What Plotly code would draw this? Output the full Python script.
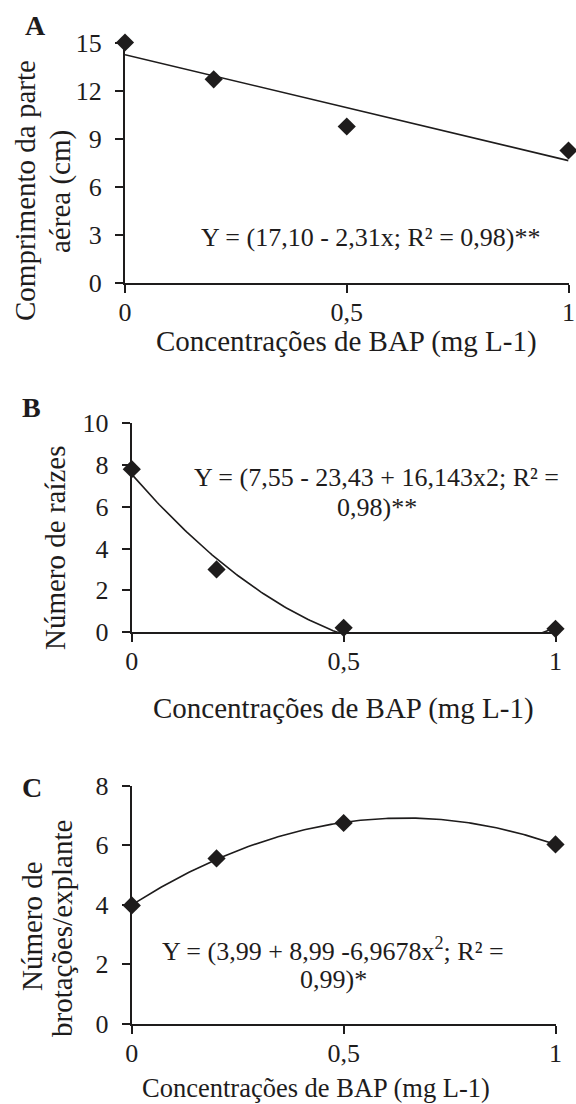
import numpy as np
import plotly.graph_objects as go

# ---- data ----
bap = [0, 0.2, 0.5, 1]
comprimento = [15.0, 12.7, 9.75, 8.25]
raizes = [7.8, 3.0, 0.2, 0.15]
brotacoes = [3.97, 5.55, 6.74, 6.02]
x_ticks = [0, 0.5, 1]
x_ticktext = ["0", "0,5", "1"]
eq_a = "Y = (17,10 - 2,31x; R² = 0,98)**"
eq_b = ["Y = (7,55 - 23,43 + 16,143x2; R² =", "0,98)**"]
eq_c = ["Y = (3,99 + 8,99 -6,9678x<sup>2</sup>; R² =", "0,99)*"]
x_title = "Concentrações de BAP (mg L-1)"

W, H = 576, 1104
FONT = "Liberation Serif"
INK = "#1e1c1c"


def px(x):
    return x / W


def py(y):
    return 1 - y / H


fig = go.Figure()

panels = [
    # name, values, deg, xdom, ydom(px bottom, top), yrange, dtick
    ("A", comprimento, 1, (125, 568.5), (282.5, 42.5), (0, 15), 3),
    ("B", raizes, 2, (131.8, 555.5), (632, 423.3), (0, 10), 2),
    ("C", brotacoes, 2, (131.8, 555.5), (1023.5, 785.5), (0, 8), 2),
]

xs = np.linspace(0, 1, 201)
for i, (name, vals, deg, xd, yd, yr, dt) in enumerate(panels):
    k = "" if i == 0 else str(i + 1)
    coef = np.polyfit(bap, vals, deg)
    fig.add_trace(go.Scatter(x=xs, y=np.polyval(coef, xs), mode="lines",
                             line=dict(color=INK, width=1.6),
                             xaxis="x" + k, yaxis="y" + k, showlegend=False,
                             hoverinfo="skip"))
    fig.add_trace(go.Scatter(x=bap, y=vals, mode="markers",
                             marker=dict(symbol="diamond", size=14, color=INK),
                             cliponaxis=False,
                             xaxis="x" + k, yaxis="y" + k, showlegend=False))
    axis_common = dict(showgrid=False, zeroline=False, showline=True,
                       linecolor=INK, linewidth=2.2, ticks="outside",
                       ticklen=8, tickwidth=1.6, tickcolor=INK,
                       tickfont=dict(family=FONT, size=26, color=INK),
                       automargin=False, fixedrange=True)
    fig.layout["xaxis" + k] = dict(axis_common, domain=[px(xd[0]), px(xd[1])],
                                   range=[0, 1], tickvals=x_ticks,
                                   ticktext=x_ticktext, anchor="y" + k,
                                   ticklabelstandoff=-3)
    fig.layout["yaxis" + k] = dict(axis_common, domain=[py(yd[0]), py(yd[1])],
                                   range=list(yr), dtick=dt, tick0=0,
                                   anchor="x" + k, ticklabelstandoff=8)


def ann(text, x, y, size, angle=0, bold=False):
    fig.add_annotation(text=("<b>%s</b>" % text) if bold else text,
                       x=px(x), y=py(y), xref="paper", yref="paper",
                       xanchor="center", yanchor="middle", showarrow=False,
                       textangle=angle,
                       font=dict(family=FONT, size=size, color=INK))


# panel letters
ann("A", 35, 26, 28, bold=True)
ann("B", 31, 407, 28, bold=True)
ann("C", 32, 787, 28, bold=True)

# x titles
ann(x_title, 346, 341, 29)
ann(x_title, 343, 708, 29)
ann(x_title, 316, 1088, 26.5)

# y titles
ann("Comprimento da parte", 25, 191, 29, angle=-90)
ann("aérea (cm)", 60, 192, 29, angle=-90)
ann("Número de raízes", 55, 548, 29, angle=-90)
ann("Número de", 32, 926, 29, angle=-90)
ann("brotações/explante", 62, 929, 29, angle=-90)

# equations
ann(eq_a, 370, 238, 26)
ann(eq_b[0], 376, 477, 26)
ann(eq_b[1], 377, 507, 26)
ann(eq_c[0], 333, 949, 26)
ann(eq_c[1], 333, 979, 26)

fig.update_layout(width=W, height=H, margin=dict(l=0, r=0, t=0, b=0),
                  paper_bgcolor="white", plot_bgcolor="white",
                  showlegend=False)

fig.write_html("out.html")
